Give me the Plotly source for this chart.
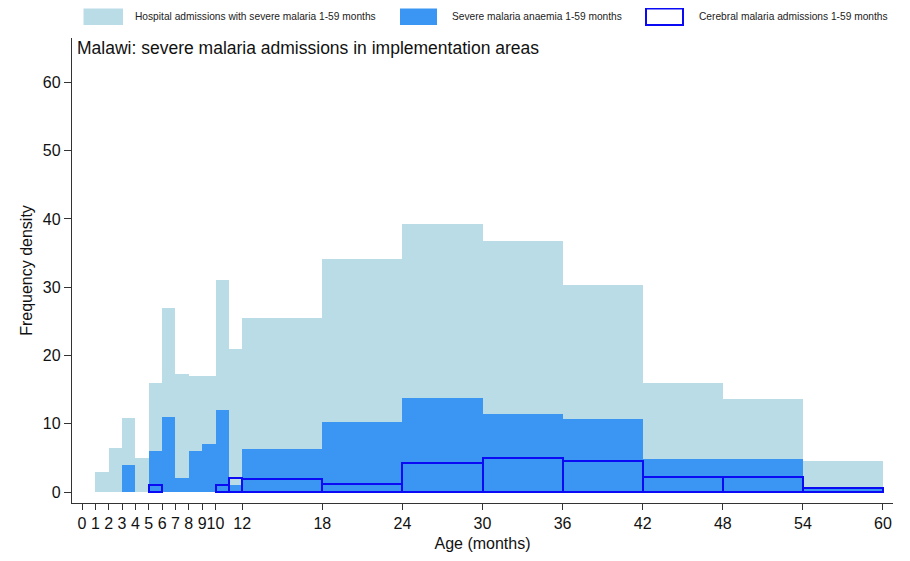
import plotly.graph_objects as go

# ---- data ----
bin_edges = [1, 2, 3, 4, 5, 6, 7, 8, 9, 10, 11, 12, 18, 24, 30, 36, 42, 48, 54, 60]
severe_malaria = [3.0, 6.4, 10.9, 5.0, 16.0, 27.0, 17.3, 17.0, 17.0, 31.0, 21.0,
                  25.5, 34.2, 39.2, 36.7, 30.4, 16.0, 13.7, 4.5]
anaemia = [0, 0, 4.0, 0, 6.0, 11.0, 2.0, 6.0, 7.0, 12.0, 1.0,
           6.3, 10.2, 13.8, 11.5, 10.7, 4.8, 4.8, 0.8]
cerebral = [0, 0, 0, 0, 1.0, 0, 0, 0, 0, 1.0, 2.0,
            1.9, 1.2, 4.2, 5.0, 4.5, 2.15, 2.15, 0.6]

x_tickvals = [0, 1, 2, 3, 4, 5, 6, 7, 8, 9, 10, 12, 18, 24, 30, 36, 42, 48, 54, 60]
y_tickvals = [0, 10, 20, 30, 40, 50, 60]

series_names = ["Hospital admissions with severe malaria 1-59 months",
                "Severe malaria anaemia 1-59 months",
                "Cerebral malaria admissions 1-59 months"]

LIGHT = "#B9DCE7"
DARK = "#3A95F3"
OUTLINE = "#0A0AF5"
FONT = "Liberation Sans, Arial, sans-serif"


def bars(values):
    xs, ws, ys = [], [], []
    for i, v in enumerate(values):
        if v and v > 0:
            lo, hi = bin_edges[i], bin_edges[i + 1]
            xs.append((lo + hi) / 2)
            ws.append(hi - lo)
            ys.append(v)
    return xs, ws, ys


fig = go.Figure()
x, w, y = bars(severe_malaria)
fig.add_trace(go.Bar(x=x, y=y, width=w, base=0, name=series_names[0],
                     marker=dict(color=LIGHT, line=dict(width=0))))
x, w, y = bars(anaemia)
fig.add_trace(go.Bar(x=x, y=y, width=w, base=0, name=series_names[1],
                     marker=dict(color=DARK, line=dict(width=0))))
x, w, y = bars(cerebral)
fig.add_trace(go.Bar(x=x, y=y, width=w, base=0, name=series_names[2],
                     marker=dict(color="rgba(0,0,0,0)", line=dict(color=OUTLINE, width=2))))

# page is 910x561 and the browser body has an 8px margin
OFF = 8
W, H = 910 - 2 * OFF, 561 - 2 * OFF
# plot area in page pixels: x 72..893, y 38..503
PL, PR, PT, PB = 72, 893, 38, 503
ML, MR, MT, MB = PL - OFF, W - (PR - OFF), PT - OFF, H - (PB - OFF)
PW, PH = PR - PL, PB - PT


def px(xpage):
    return (xpage - PL) / PW


def py(ypage):
    return (PB - ypage) / PH


shapes = []
annotations = []
legend_items = [(83.5, 123, 133, LIGHT, None),
                (400, 437, 450, DARK, None),
                (646, 683, 697, "white", OUTLINE)]
for (x0, x1, tx, fill, line), name in zip(legend_items, series_names):
    shapes.append(dict(type="rect", xref="paper", yref="paper",
                       x0=px(x0), x1=px(x1), y0=py(25), y1=py(8.5),
                       fillcolor=fill,
                       line=dict(color=line if line else fill, width=2 if line else 0)))
    annotations.append(dict(text=name, xref="paper", yref="paper", x=px(tx), y=py(16.5),
                            xanchor="left", yanchor="middle", showarrow=False,
                            font=dict(family=FONT, size=10.2, color="#222")))

annotations.append(dict(text="Malawi: severe malaria admissions in implementation areas",
                        xref="paper", yref="paper", x=px(75), y=py(48),
                        xanchor="left", yanchor="middle", showarrow=False,
                        font=dict(family=FONT, size=17.5, color="#111")))

fig.update_layout(
    width=W, height=H,
    margin=dict(l=ML, r=MR, t=MT, b=MB, pad=0),
    paper_bgcolor="white", plot_bgcolor="white",
    barmode="overlay", bargap=0, showlegend=False,
    shapes=shapes, annotations=annotations,
    font=dict(family=FONT, color="#111"),
    xaxis=dict(range=[-0.75, 60.75], tickmode="array", tickvals=x_tickvals,
               ticktext=[str(v) for v in x_tickvals], tickangle=0,
               showgrid=False, zeroline=False, showline=True, linecolor="#333", linewidth=1.3,
               ticks="outside", ticklen=6, tickcolor="#333", tickwidth=1.2,
               tickfont=dict(size=16, family=FONT, color="#111"),
               title=dict(text="Age (months)", font=dict(size=16, family=FONT, color="#111"),
                          standoff=6),
               automargin=False),
    yaxis=dict(range=[-1.6, 66.5], tickmode="array", tickvals=y_tickvals,
               showgrid=False, zeroline=False, showline=True, linecolor="#333", linewidth=1.3,
               ticks="outside", ticklen=7, tickcolor="#333", tickwidth=1.2,
               tickfont=dict(size=16, family=FONT, color="#111"),
               title=dict(text="Frequency density", font=dict(size=16, family=FONT, color="#111"),
                          standoff=6),
               automargin=False),
)

fig.write_html("out.html")
